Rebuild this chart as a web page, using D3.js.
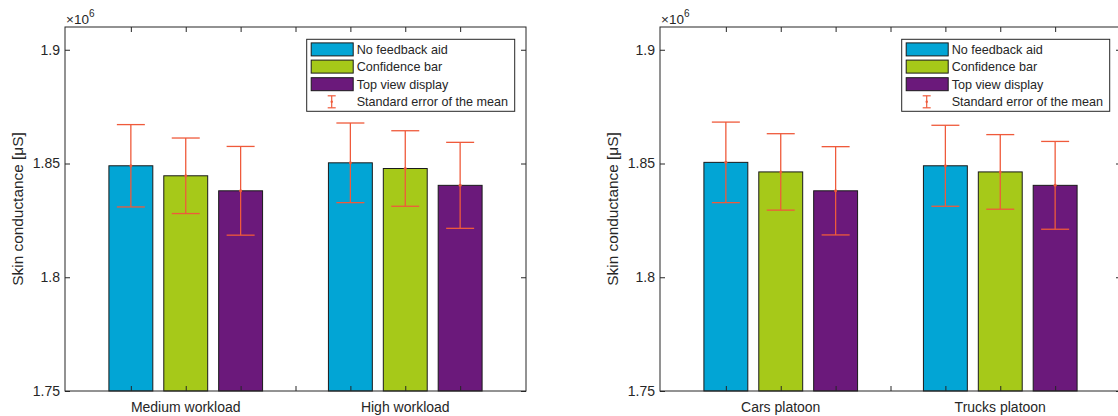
<!DOCTYPE html>
<html>
<head>
<meta charset="utf-8">
<script src="https://cdn.jsdelivr.net/npm/d3@7"></script>
<style>
  html, body { margin: 0; padding: 0; background: #fff; }
  svg { display: block; }
  text { font-family: "Liberation Sans", Arial, Helvetica, sans-serif; fill: #262626; }
</style>
</head>
<body>
<svg id="chart" width="1118" height="416"></svg>
<script>
// ---------- data ----------
const seriesNames = ["No feedback aid", "Confidence bar", "Top view display"];
const errorLegendLabel = "Standard error of the mean";
const yLabel = "Skin conductance [\u03bcS]";
const yTicks = [1750000, 1800000, 1850000, 1900000];
const xTicks = [0.75, 1, 1.25, 1.5, 1.75, 2, 2.25];

const leftCategories = ["Medium workload", "High workload"];
const leftNoFeedback = [1849000, 1850300];
const leftConfidence = [1844600, 1847800];
const leftTopView    = [1838000, 1840400];
const leftSeNoFeedback = [18100, 17500];
const leftSeConfidence = [16600, 16600];
const leftSeTopView    = [19500, 18900];

const rightCategories = ["Cars platoon", "Trucks platoon"];
const rightNoFeedback = [1850500, 1849000];
const rightConfidence = [1846300, 1846300];
const rightTopView    = [1838000, 1840400];
const rightSeNoFeedback = [17700, 17800];
const rightSeConfidence = [16800, 16400];
const rightSeTopView    = [19400, 19300];

const colors = ["#02A5D5", "#A6C919", "#6B197B"];
const errColor = "#EF5A3B";
const axisColor = "#262626";

// ---------- drawing ----------
const svg = d3.select("#chart");

function panel(left, categories, means, ses) {
  const top = 27, bottom = 391, width = 461;
  const x = d3.scaleLinear().domain([0.45, 2.55]).range([left, left + width]);
  const y = d3.scaleLinear().domain([1750000, 1910000]).range([bottom, top]);
  const offsets = [-0.25, 0, 0.25];
  const barW = 0.2;
  const g = svg.append("g");

  // bars
  means.forEach((vals, s) => {
    g.selectAll(null).data(vals).enter().append("rect")
      .attr("x", (d, i) => x(i + 1 + offsets[s] - barW / 2))
      .attr("width", x(barW) - x(0))
      .attr("y", d => y(d))
      .attr("height", d => y(1750000) - y(d))
      .attr("fill", colors[s])
      .attr("stroke", "#1a1a1a")
      .attr("stroke-width", 1);
  });

  // error bars
  const capHalf = 14;
  means.forEach((vals, s) => {
    vals.forEach((m, i) => {
      const cx = x(i + 1 + offsets[s]);
      const se = ses[s][i];
      const eg = g.append("g").attr("stroke", errColor).attr("stroke-width", 1.3);
      eg.append("line").attr("x1", cx).attr("x2", cx).attr("y1", y(m + se)).attr("y2", y(m - se));
      eg.append("line").attr("x1", cx - capHalf).attr("x2", cx + capHalf).attr("y1", y(m + se)).attr("y2", y(m + se));
      eg.append("line").attr("x1", cx - capHalf).attr("x2", cx + capHalf).attr("y1", y(m - se)).attr("y2", y(m - se));
      g.append("circle").attr("cx", cx).attr("cy", y(m)).attr("r", 1.5).attr("fill", errColor);
    });
  });

  // axes (ticks inward on all four sides)
  const fmt = d => String(+(d / 1e6).toFixed(2));
  const yl = g.append("g").attr("transform", `translate(${left},0)`)
    .call(d3.axisLeft(y).tickValues(yTicks).tickFormat(fmt).tickSizeInner(-5).tickSizeOuter(0).tickPadding(5));
  const yr = g.append("g").attr("transform", `translate(${left + width},0)`)
    .call(d3.axisRight(y).tickValues(yTicks).tickFormat("").tickSizeInner(-5).tickSizeOuter(0));
  const xb = g.append("g").attr("transform", `translate(0,${bottom})`)
    .call(d3.axisBottom(x).tickValues(xTicks).tickFormat("").tickSizeInner(-5).tickSizeOuter(0));
  const xt = g.append("g").attr("transform", `translate(0,${top})`)
    .call(d3.axisTop(x).tickValues(xTicks).tickFormat("").tickSizeInner(-5).tickSizeOuter(0));
  [yl, yr, xb, xt].forEach(a => {
    a.select(".domain").remove();
    a.selectAll(".tick line").attr("stroke", axisColor);
  });
  yl.selectAll(".tick text").attr("font-size", 14).attr("fill", axisColor)
    .style("font-family", '"Liberation Sans", Arial, sans-serif');

  // box
  g.append("rect").attr("x", left).attr("y", top).attr("width", width).attr("height", bottom - top)
    .attr("fill", "none").attr("stroke", axisColor).attr("stroke-width", 1);

  // category labels
  g.selectAll(null).data(categories).enter().append("text")
    .attr("x", (d, i) => x(i + 1)).attr("y", 412)
    .attr("text-anchor", "middle").attr("font-size", 14).text(d => d);

  // exponent
  const ex = g.append("text").attr("x", left + 1).attr("y", 24).attr("font-size", 13.5);
  ex.append("tspan").text("\u00d710");
  ex.append("tspan").attr("dy", -7).attr("font-size", 10).text("6");

  // y label
  g.append("text").attr("transform", `translate(${left - 42},${(top + bottom) / 2}) rotate(-90)`)
    .attr("text-anchor", "middle").attr("font-size", 15.4).text(yLabel);

  // legend
  const lx = left + 241.7, ly = 39.3;
  const lg = g.append("g");
  lg.append("rect").attr("x", lx).attr("y", ly).attr("width", 208).attr("height", 72)
    .attr("fill", "#fff").attr("stroke", axisColor).attr("stroke-width", 1);
  const rowY = [49.4, 66.6, 84.2, 101.8];
  seriesNames.forEach((name, s) => {
    lg.append("rect").attr("x", lx + 4.5).attr("y", rowY[s] - 6.5).attr("width", 42).attr("height", 13)
      .attr("fill", colors[s]).attr("stroke", "#1a1a1a").attr("stroke-width", 1);
    lg.append("text").attr("x", lx + 50).attr("y", rowY[s]).attr("dy", "0.35em")
      .attr("font-size", 12.6).text(name);
  });
  const ecx = lx + 25, ecy = rowY[3];
  const le = lg.append("g").attr("stroke", errColor).attr("stroke-width", 1.2);
  le.append("line").attr("x1", ecx).attr("x2", ecx).attr("y1", ecy - 6).attr("y2", ecy + 6);
  le.append("line").attr("x1", ecx - 4).attr("x2", ecx + 4).attr("y1", ecy - 6).attr("y2", ecy - 6);
  le.append("line").attr("x1", ecx - 4).attr("x2", ecx + 4).attr("y1", ecy + 6).attr("y2", ecy + 6);
  lg.append("circle").attr("cx", ecx).attr("cy", ecy).attr("r", 1.2).attr("fill", errColor);
  lg.append("text").attr("x", lx + 50).attr("y", ecy).attr("dy", "0.35em")
    .attr("font-size", 12.6).text(errorLegendLabel);
}

panel(65, leftCategories,
  [leftNoFeedback, leftConfidence, leftTopView],
  [leftSeNoFeedback, leftSeConfidence, leftSeTopView]);
panel(660, rightCategories,
  [rightNoFeedback, rightConfidence, rightTopView],
  [rightSeNoFeedback, rightSeConfidence, rightSeTopView]);
</script>
</body>
</html>
